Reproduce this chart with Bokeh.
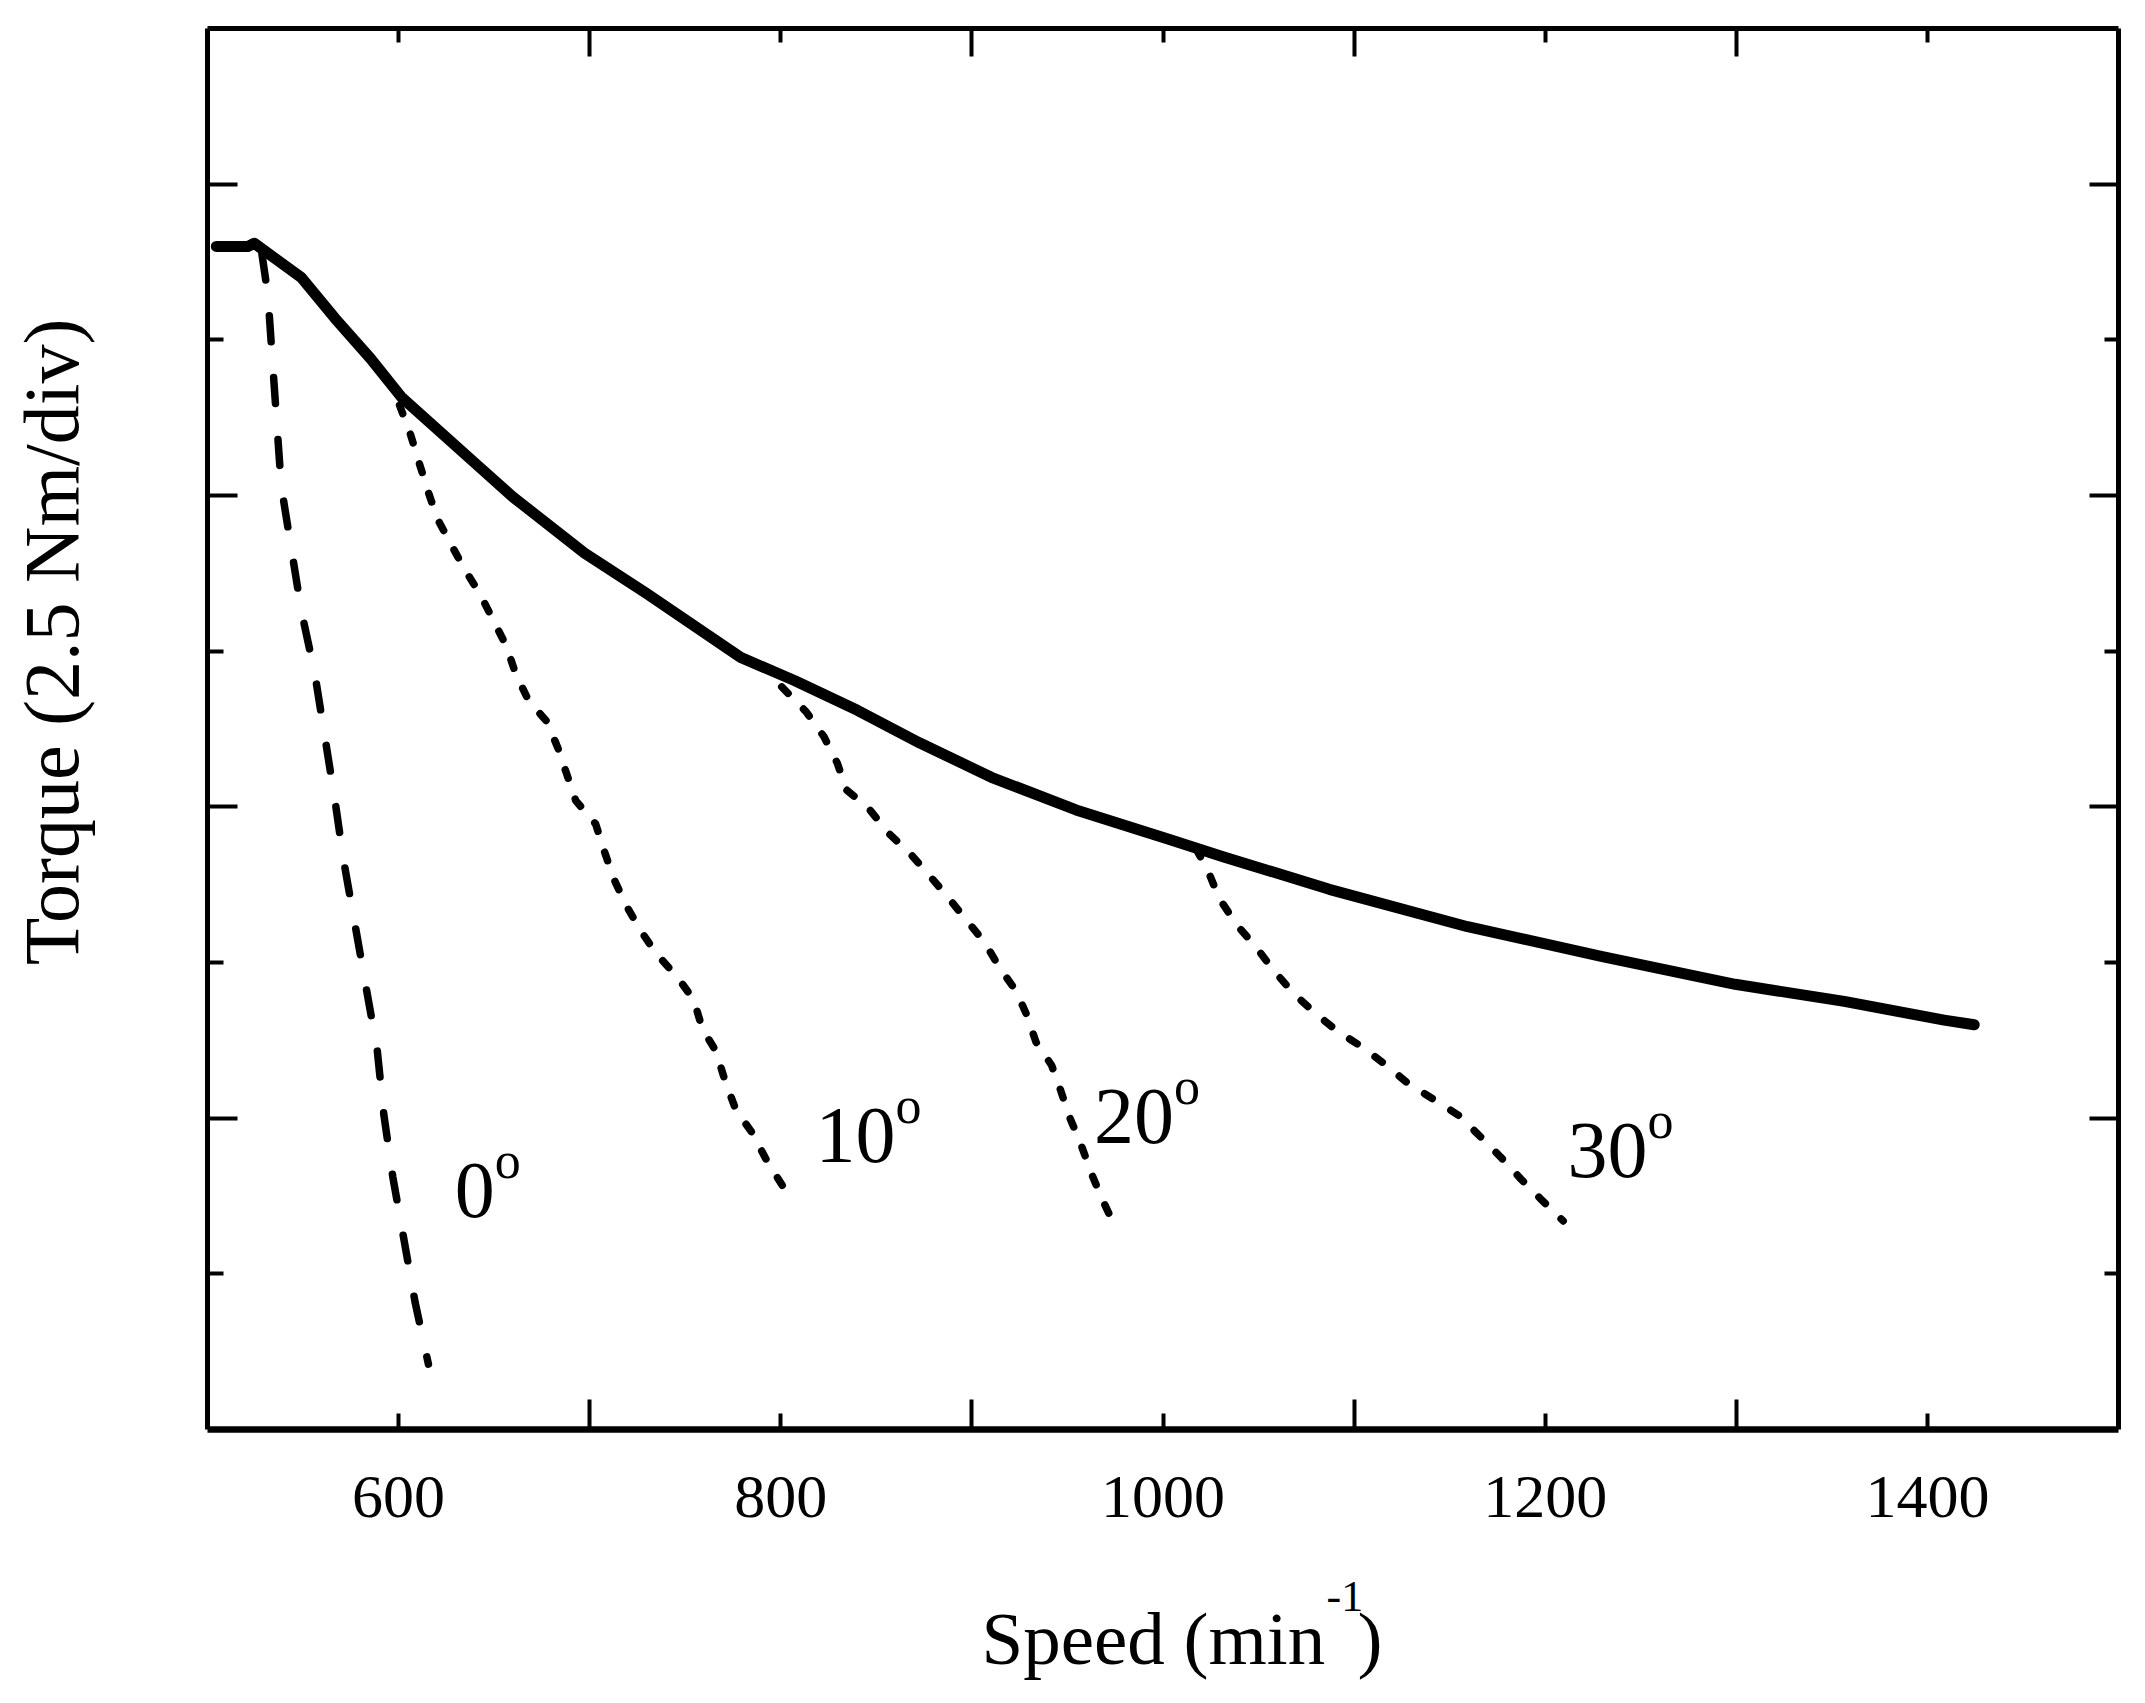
import math
from bokeh.plotting import figure
from bokeh.layouts import row, column
from bokeh.models import FixedTicker, LinearAxis, Range1d
from bokeh.core.properties import value
from bokeh.embed import file_html
from bokeh.resources import INLINE

# ---- data ----
SPEED_ENVELOPE = [504.6, 521.1, 524.5, 549.1, 566.6, 585.3, 601.6, 638.9, 659.9, 697.3,
                  729.9, 779.0, 807.4, 840.1, 872.8, 910.2, 954.5, 1003.4, 1031.4, 1087.0,
                  1159.4, 1229.3, 1299.4, 1356.5, 1408.8, 1424.5]
TORQUE_ENVELOPE = [7.60, 7.60, 7.62, 7.40, 7.14, 6.88, 6.63, 6.22, 5.99, 5.63,
                   5.37, 4.96, 4.81, 4.62, 4.41, 4.19, 3.98, 3.79, 3.68, 3.47,
                   3.23, 3.04, 2.86, 2.75, 2.63, 2.60]

SPEED_0 = [528.5, 531.6, 533.9, 538.6, 549.1, 556.1, 566.6, 571.3, 577.1, 583.0,
           588.8, 592.3, 597.0, 602.8, 608.6, 615.6]
TORQUE_0 = [7.55, 7.29, 6.88, 6.06, 5.26, 4.86, 4.05, 3.65, 3.25, 2.84,
            2.44, 2.02, 1.62, 1.22, 0.82, 0.42]

SPEED_10 = [600.5, 606.3, 611.0, 615.6, 620.3, 627.3, 634.3, 642.5, 649.5, 656.5,
            661.1, 668.1, 677.5, 683.3, 688.0, 692.7, 703.1, 707.8, 712.5, 719.4,
            726.4, 734.6, 746.3, 754.4, 759.1, 766.1, 770.8, 776.6, 784.8, 793.0, 801.2]
TORQUE_10 = [6.58, 6.39, 6.20, 6.02, 5.85, 5.69, 5.53, 5.37, 5.20, 5.03,
             4.86, 4.68, 4.55, 4.38, 4.21, 4.04, 3.89, 3.71, 3.54, 3.36,
             3.21, 3.06, 2.90, 2.76, 2.57, 2.43, 2.24, 2.05, 1.91, 1.72, 1.56]

SPEED_20 = [800.5, 813.3, 822.6, 829.6, 834.3, 846.0, 856.4, 866.9, 876.3, 886.8,
            897.3, 906.6, 914.8, 923.0, 928.8, 933.5, 941.7, 946.4, 951.0, 956.8,
            962.7, 968.5, 975.5]
TORQUE_20 = [4.77, 4.61, 4.45, 4.28, 4.11, 3.99, 3.83, 3.71, 3.58, 3.43,
             3.27, 3.13, 2.96, 2.82, 2.66, 2.49, 2.34, 2.18, 2.01, 1.84,
             1.64, 1.47, 1.29]

SPEED_30 = [1017.3, 1023.5, 1029.5, 1038.7, 1048.6, 1057.9, 1068.4, 1080.0, 1091.7, 1104.5,
            1117.4, 1128.5, 1141.7, 1154.5, 1166.2, 1176.7, 1187.2, 1197.7, 1209.4]
TORQUE_30 = [3.73, 3.59, 3.41, 3.24, 3.10, 2.95, 2.80, 2.67, 2.555, 2.455,
             2.335, 2.22, 2.12, 2.02, 1.88, 1.75, 1.61, 1.48, 1.34]

ANGLE_TEXT = ["0", "10", "20", "30"]
ANGLE_X = [629.4, 818.1, 963.9, 1211.7]
ANGLE_Y = [1.385, 1.742, 1.864, 1.645]

X_MAJOR = [600, 800, 1000, 1200, 1400]
X_MINOR = [700, 900, 1100, 1300]
Y_MAJOR = [2, 4, 6, 8]
Y_MINOR = [1, 3, 5, 7]

X_TITLE_PARTS = ["Speed (min", "-1", ")"]
Y_TITLE = "Torque (2.5 Nm/div)"

FONT = "Liberation Serif"

# ---- layout sizes (pixels) ----
TOTAL_W, TOTAL_H = 2137, 1695
YT_W = 120           # strip holding the vertical title
XT_H = 135           # strip holding the horizontal title
MAIN_W, MAIN_H = TOTAL_W - YT_W, TOTAL_H - XT_H


def blank_fig(w, h):
    f = figure(width=w, height=h, output_backend="svg", toolbar_location=None,
               x_range=Range1d(0, w), y_range=Range1d(0, h),
               x_axis_location=None, y_axis_location=None,
               min_border=0, min_border_left=0, min_border_right=0,
               min_border_top=0, min_border_bottom=0)
    f.grid.visible = False
    f.outline_line_color = None
    f.background_fill_color = "white"
    f.border_fill_color = "white"
    return f


p = figure(width=MAIN_W, height=MAIN_H, output_backend="svg", toolbar_location=None,
           x_range=Range1d(500, 1500), y_range=Range1d(0, 9),
           x_axis_location=None, y_axis_location=None,
           min_border_left=87, min_border_right=19, min_border_top=28, min_border_bottom=131)
p.grid.visible = False
p.outline_line_color = None
p.background_fill_color = "white"
p.border_fill_color = "white"


def make_axis(major, minor, major_len, minor_len, line_width, show_labels):
    ax = LinearAxis(ticker=FixedTicker(ticks=major, minor_ticks=minor))
    ax.axis_line_color = "black"
    ax.axis_line_width = line_width
    ax.major_tick_line_color = "black"
    ax.minor_tick_line_color = "black"
    ax.major_tick_line_width = 4
    ax.minor_tick_line_width = 4
    ax.major_tick_in = major_len
    ax.major_tick_out = 0
    ax.minor_tick_in = minor_len
    ax.minor_tick_out = 0
    if show_labels:
        ax.major_label_text_font = FONT
        ax.major_label_text_font_size = "62px"
        ax.major_label_text_color = "black"
        ax.major_label_standoff = 47
    else:
        ax.major_label_overrides = {t: "" for t in major}
        ax.major_label_text_font_size = "0px"
        ax.major_label_standoff = 0
    return ax


p.add_layout(make_axis(X_MAJOR, X_MINOR, 16, 30, 6.5, True), "below")
p.add_layout(make_axis(X_MAJOR, X_MINOR, 14, 28, 5, False), "above")
p.add_layout(make_axis(Y_MAJOR, Y_MINOR, 30, 16, 5, False), "left")
p.add_layout(make_axis(Y_MAJOR, Y_MINOR, 29, 14, 5, False), "right")

# curves
p.line(SPEED_ENVELOPE, TORQUE_ENVELOPE, line_color="black", line_width=11,
       line_join="round", line_cap="round")
p.line(SPEED_0, TORQUE_0, line_color="black", line_width=7.5, line_dash="26 36",
       line_cap="round", line_join="round")
for xs, ys in [(SPEED_10, TORQUE_10), (SPEED_20, TORQUE_20), (SPEED_30, TORQUE_30)]:
    p.line(xs, ys, line_color="black", line_width=7.5, line_dash="9 22",
           line_cap="round", line_join="round")

# angle annotations: number + superscript "o"
main_size = 80
p.text(ANGLE_X, ANGLE_Y, text=ANGLE_TEXT, y_offset=-23, text_font=value(FONT),
       text_font_size=f"{main_size}px", text_color="black",
       text_align="left", text_baseline="alphabetic")
sup_offsets = [0.5 * main_size * len(t) for t in ANGLE_TEXT]
p.text(ANGLE_X, ANGLE_Y, text=["o"] * len(ANGLE_TEXT), x_offset=sup_offsets, y_offset=-53,
       text_font=value(FONT), text_font_size="52px", text_color="black",
       text_align="left", text_baseline="alphabetic")

# vertical title strip (pixel coordinates, origin bottom-left of the strip)
yt = blank_fig(YT_W, MAIN_H)
yt.text([51], [MAIN_H - 959 - 84], text=[Y_TITLE], angle=math.pi / 2, text_font=value(FONT),
        text_font_size="78px", text_color="black", text_align="left",
        text_baseline="alphabetic")

# horizontal title strip (pixel coordinates, origin bottom-left of the strip)
xt = blank_fig(TOTAL_W, XT_H)
xt.text([981, 1326], [TOTAL_H - 1660 + 22, TOTAL_H - 1612 + 16],
        text=X_TITLE_PARTS[:2], text_font=value(FONT),
        text_font_size=["75px", "44px"], text_color="black",
        text_align="left", text_baseline="alphabetic")
xt.text([1357], [TOTAL_H - 1660 + 22], text=[X_TITLE_PARTS[2]], text_font=value(FONT),
        text_font_size="75px", text_color="black", text_align="left",
        text_baseline="alphabetic")

layout = column(row(yt, p), xt)
open("out.html", "w").write(file_html(layout, INLINE))
